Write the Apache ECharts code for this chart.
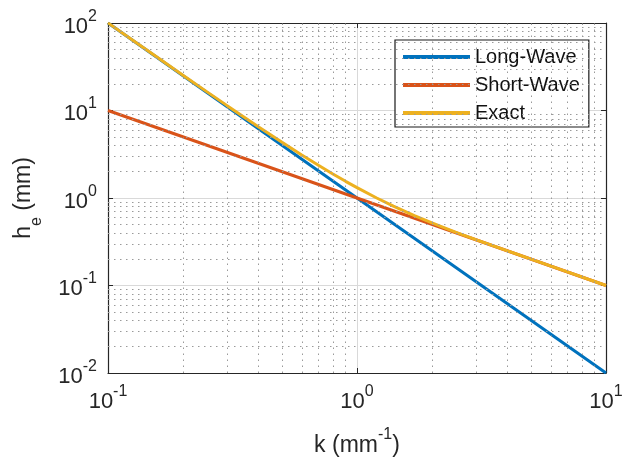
<!DOCTYPE html>
<html><head><meta charset="utf-8">
<script src="https://cdn.jsdelivr.net/npm/echarts@6/dist/echarts.min.js"></script>
<style>html,body{margin:0;padding:0;background:#fff}#c{width:630px;height:462px}</style>
</head><body><div id="c"></div>
<script>
// Data
var seriesNames = ['Long-Wave', 'Short-Wave', 'Exact'];
var longWave = [[0.1, 100], [1, 1], [10, 0.01]];
var shortWave = [[0.1, 10], [1, 1], [10, 0.1]];
var exactK = [0.1, 0.12, 0.15, 0.2, 0.25, 0.3, 0.4, 0.5, 0.6, 0.7, 0.8, 0.9, 1, 1.2, 1.4, 1.7, 2, 2.5, 3, 4, 5, 7, 10];
var exactH = [100.3, 69.8, 44.8, 25.3, 16.33, 11.44, 6.58, 4.33, 3.10, 2.364, 1.882, 1.551, 1.313, 1.0, 0.807, 0.629, 0.519, 0.405, 0.335, 0.250, 0.200, 0.143, 0.100];
var xMinorGrid = [0.2, 0.3, 0.4, 0.5, 0.6, 0.7, 0.8, 0.9, 2, 3, 4, 5, 6, 7, 8, 9];
var yMinorGrid = [0.02, 0.03, 0.04, 0.05, 0.06, 0.07, 0.08, 0.09, 0.2, 0.3, 0.4, 0.5, 0.6, 0.7, 0.8, 0.9, 2, 3, 4, 5, 6, 7, 8, 9, 20, 30, 40, 50, 60, 70, 80, 90];
var xRange = [0.1, 10];
var yRange = [0.01, 100];

var FONT = 'Liberation Sans, Arial, sans-serif';
var TXT = '#262626';
var colors = ['#0072BD', '#D95319', '#EDB120'];
var ZW = '\u200b';

function powLabel(v) {
  var e = Math.round(Math.log10(v));
  return '{z|' + ZW + '}{b|10}{s|' + e + '}';
}
var tickRich = {
  z: {fontSize: 10, lineHeight: 29},
  b: {fontSize: 22, fontFamily: FONT, color: TXT, lineHeight: 22, verticalAlign: 'bottom'},
  s: {fontSize: 16, fontFamily: FONT, color: TXT, lineHeight: 16, verticalAlign: 'top'}
};

var exactData = exactK.map(function (k, i) { return [k, exactH[i]]; });

var minorLines = [];
xMinorGrid.forEach(function (v) { minorLines.push({xAxis: v}); });
yMinorGrid.forEach(function (v) { minorLines.push({yAxis: v}); });

var chart = echarts.init(document.getElementById('c'), null, {renderer: 'canvas'});
chart.setOption({
  animation: false,
  backgroundColor: '#fff',
  color: colors,
  grid: {left: 108, right: 24, top: 23, bottom: 87, containLabel: false},
  legend: {
    data: seriesNames,
    orient: 'vertical',
    left: 395, top: 40,
    padding: [7, 9, 4, 8],
    itemGap: 8,
    itemWidth: 67, itemHeight: 4,
    icon: 'rect',
    borderColor: '#1a1a1a', borderWidth: 1.2,
    backgroundColor: '#fff',
    textStyle: {fontSize: 20, lineHeight: 20, fontFamily: FONT, color: '#111'}
  },
  xAxis: [{
    type: 'log', logBase: 10, min: xRange[0], max: xRange[1],
    name: '{z|' + ZW + '}{a|k (mm}{p|-1}{a|)}',
    nameLocation: 'middle', nameGap: 54,
    nameTextStyle: {rich: {
      z: {fontSize: 10, lineHeight: 30},
      a: {fontSize: 23, fontFamily: FONT, color: TXT, lineHeight: 23, verticalAlign: 'bottom'},
      p: {fontSize: 16, fontFamily: FONT, color: TXT, lineHeight: 16, verticalAlign: 'top'}
    }},
    axisLine: {show: true, onZero: false, lineStyle: {color: TXT, width: 1.2}},
    axisTick: {show: true, inside: true, length: 5, lineStyle: {color: TXT}},
    axisLabel: {formatter: powLabel, rich: tickRich, margin: 11},
    splitLine: {show: true, lineStyle: {color: '#d9d9d9', width: 1}}
  }, {
    type: 'log', logBase: 10, min: xRange[0], max: xRange[1], position: 'top',
    axisLine: {show: true, onZero: false, lineStyle: {color: TXT, width: 1.2}},
    axisTick: {show: true, inside: true, length: 5, lineStyle: {color: TXT}},
    axisLabel: {show: false}, splitLine: {show: false}
  }],
  yAxis: [{
    type: 'log', logBase: 10, min: yRange[0], max: yRange[1],
    name: '{z|' + ZW + '}{a|h}{u|e}{a| (mm)}',
    nameLocation: 'middle', nameGap: 63, nameRotate: 90,
    nameTextStyle: {rich: {
      z: {fontSize: 10, lineHeight: 33},
      a: {fontSize: 23, fontFamily: FONT, color: TXT, lineHeight: 23, verticalAlign: 'top'},
      u: {fontSize: 16, fontFamily: FONT, color: TXT, lineHeight: 16, verticalAlign: 'bottom'}
    }},
    axisLine: {show: true, onZero: false, lineStyle: {color: TXT, width: 1.2}},
    axisTick: {show: true, inside: true, length: 5, lineStyle: {color: TXT}},
    axisLabel: {formatter: powLabel, rich: tickRich, margin: 11},
    splitLine: {show: true, lineStyle: {color: '#d9d9d9', width: 1}}
  }, {
    type: 'log', logBase: 10, min: yRange[0], max: yRange[1], position: 'right',
    axisLine: {show: true, onZero: false, lineStyle: {color: TXT, width: 1.2}},
    axisTick: {show: true, inside: true, length: 5, lineStyle: {color: TXT}},
    axisLabel: {show: false}, splitLine: {show: false}
  }],
  series: [
    {
      name: 'grid-minor', type: 'line', data: [], silent: true,
      markLine: {
        silent: true, symbol: 'none', animation: false,
        label: {show: false},
        lineStyle: {color: '#9a9a9a', width: 1, type: [1.5, 4.5]},
        data: minorLines
      }
    },
    {name: seriesNames[0], type: 'line', data: longWave, showSymbol: false, lineStyle: {width: 3, color: colors[0]}, itemStyle: {color: colors[0]}},
    {name: seriesNames[1], type: 'line', data: shortWave, showSymbol: false, lineStyle: {width: 3, color: colors[1]}, itemStyle: {color: colors[1]}},
    {name: seriesNames[2], type: 'line', data: exactData, showSymbol: false, smooth: false, lineStyle: {width: 3, color: colors[2]}, itemStyle: {color: colors[2]}}
  ]
});
</script></body></html>
